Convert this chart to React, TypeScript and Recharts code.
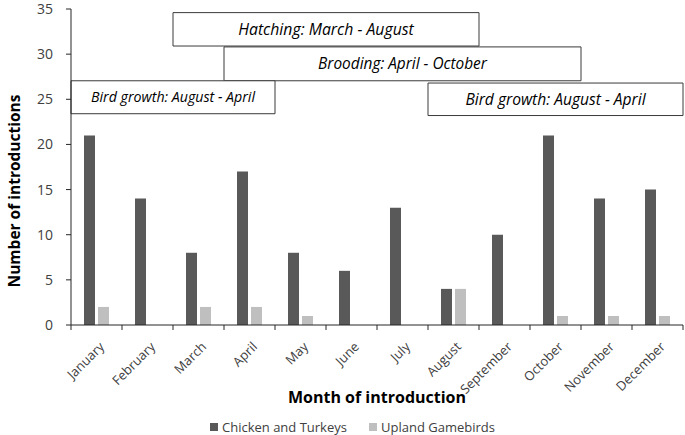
import { BarChart, Bar, XAxis, YAxis, Legend, ReferenceArea } from "recharts"

const months = [
  "January", "February", "March", "April", "May", "June",
  "July", "August", "September", "October", "November", "December",
]
const chickenTurkeys = [21, 14, 8, 17, 8, 6, 13, 4, 10, 21, 14, 15]
const uplandGamebirds = [2, 0, 2, 2, 1, 0, 0, 4, 0, 1, 1, 1]
const yTicks = [0, 5, 10, 15, 20, 25, 30, 35]

const phases = [
  { label: "Hatching: March - August", from: "March", to: "August" },
  { label: "Brooding: April - October", from: "April", to: "October" },
  { label: "Bird growth: August - April", from: "January", to: "April" },
  { label: "Bird growth: August - April", from: "August", to: "December" },
]

const series = [
  { key: "chicken", name: "Chicken and Turkeys", color: "#595959" },
  { key: "upland", name: "Upland Gamebirds", color: "#bfbfbf" },
]

const data = months.map((m, i) => ({
  month: m,
  chicken: chickenTurkeys[i],
  upland: uplandGamebirds[i],
}))

// vertical extent + font size of each phase box (layout, matched to phases order)
const boxLayout = [
  { y1: 30.9, y2: 34.6, size: 15.8 },
  { y1: 27.05, y2: 30.8, size: 15.4 },
  { y1: 23.4, y2: 27.05, size: 14.2 },
  { y1: 23.2, y2: 26.8, size: 15.6 },
]

const font = "'Open Sans', sans-serif"
const axisColor = "#262626"
const textColor = "#404040"

function MonthTick(props: any) {
  const { x, y, payload, index } = props
  const off = payload?.offset ?? 25.5
  const last = index === months.length - 1
  const ax = x + 5
  const ay = y + 19
  return (
    <g>
      <line x1={x - off} y1={y} x2={x - off} y2={y + 5} stroke={axisColor} />
      {last && <line x1={x + off} y1={y} x2={x + off} y2={y + 5} stroke={axisColor} />}
      <text
        x={ax}
        y={ay}
        textAnchor="end"
        dominantBaseline="central"
        transform={`rotate(-45, ${ax}, ${ay})`}
        fontSize={13}
        fontFamily={font}
        fill={textColor}
      >
        {payload.value}
      </text>
    </g>
  )
}

function LegendContent() {
  return (
    <div style={{ display: "flex", gap: 22, fontFamily: font, fontSize: 13, color: textColor }}>
      {series.map((s) => (
        <span key={s.key} style={{ display: "flex", alignItems: "center" }}>
          <span style={{ display: "inline-block", width: 8, height: 8, background: s.color, marginRight: 4 }} />
          {s.name}
        </span>
      ))}
    </div>
  )
}

export default function App() {
  return (
    <div style={{ position: "absolute", left: 0, top: 0, background: "#fff" }}>
      <BarChart
        width={685}
        height={435}
        data={data}
        margin={{ top: 9, right: 2, left: 0, bottom: 0 }}
        barSize={11}
        barGap={3}
      >
        <XAxis
          dataKey="month"
          height={110}
          interval={0}
          tickSize={0}
          tickMargin={0}
          tickLine={false}
          stroke={axisColor}
          tick={<MonthTick />}
          label={{
            content: (p: any) => (
              <text
                x={p.viewBox.x + p.viewBox.width / 2}
                y={p.viewBox.y + 78}
                textAnchor="middle"
                fontFamily={font}
                fontWeight="bold"
                fontSize={16}
                fill="#000"
              >
                Month of introduction
              </text>
            ),
          }}
        />
        <YAxis
          width={71}
          domain={[0, 35]}
          ticks={yTicks}
          interval={0}
          tickSize={5}
          tickMargin={13}
          stroke={axisColor}
          tick={{ fontSize: 14, fontFamily: font, fill: textColor }}
          label={{
            content: () => (
              <text
                x={14}
                y={191}
                textAnchor="middle"
                dominantBaseline="central"
                transform="rotate(-90, 14, 191)"
                fontFamily={font}
                fontWeight="bold"
                fontSize={15.5}
                fill="#000"
              >
                Number of introductions
              </text>
            ),
          }}
        />
        <Legend
          layout="horizontal"
          verticalAlign="middle"
          align="center"
          content={<LegendContent />}
          wrapperStyle={{ left: 210, top: 418, width: "auto" }}
        />
        {series.map((s) => (
          <Bar key={s.key} dataKey={s.key} name={s.name} fill={s.color} isAnimationActive={false} />
        ))}
        {phases.map((p, i) => (
          <ReferenceArea
            key={i}
            x1={p.from}
            x2={p.to}
            y1={boxLayout[i].y1}
            y2={boxLayout[i].y2}
            fill="#ffffff"
            fillOpacity={1}
            stroke="#3a3a3a"
            strokeWidth={1}
            label={{
              value: p.label,
              position: "center",
              fill: "#000",
              fontSize: boxLayout[i].size,
              fontFamily: font,
              fontStyle: "italic",
            }}
          />
        ))}
      </BarChart>
    </div>
  )
}
